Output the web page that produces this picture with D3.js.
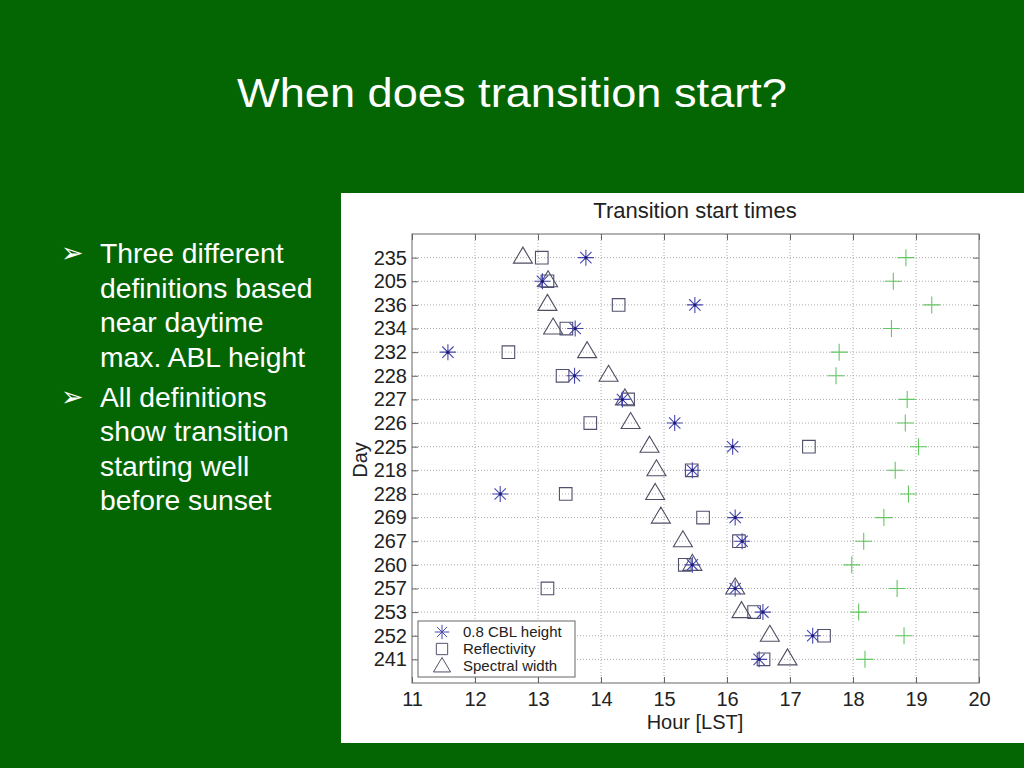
<!DOCTYPE html>
<html>
<head>
<meta charset="utf-8">
<script src="https://cdn.jsdelivr.net/npm/d3@7"></script>
<style>
  body { margin: 0; background: #036603; }
  svg text { font-family: "Liberation Sans", Arial, sans-serif; }
</style>
</head>
<body>
<div id="slide"></div>
<script>
// data (rows top to bottom)
var days = ["235", "205", "236", "234", "232", "228", "227", "226", "225",
            "218", "228", "269", "267", "260", "257", "253", "252", "241"];
var cblHeight = [13.76, 13.07, 15.49, 13.59, 11.57, 13.58, 14.34, 15.17, 16.09,
                 15.45, 12.40, 16.13, 16.24, 15.45, 16.13, 16.57, 17.36, 16.51];
var reflectivity = [13.06, 13.15, 14.28, 13.45, 12.53, 13.39, 14.43, 13.83, 17.30,
                    15.44, 13.44, 15.62, 16.19, 15.33, 13.15, 16.43, 17.54, 16.58];
var spectralWidth = [12.76, 13.16, 13.15, 13.24, 13.78, 14.12, 14.38, 14.47, 14.77,
                     14.88, 14.86, 14.95, 15.30, 15.45, 16.13, 16.23, 16.68, 16.96];
var sunset = [18.84, 18.64, 19.25, 18.61, 17.78, 17.73, 18.86, 18.83, 19.04,
              18.67, 18.88, 18.49, 18.17, 17.98, 18.70, 18.09, 18.81, 18.19];
var hourTicks = [11, 12, 13, 14, 15, 16, 17, 18, 19, 20];
var legendLabels = ["0.8 CBL height", "Reflectivity", "Spectral width"];

var bullets = [
    ["Three different", "definitions based", "near daytime", "max. ABL height"],
    ["All definitions", "show transition", "starting well", "before sunset"]
];

var W = 1024, H = 768;

var svg = d3.select('#slide')
    .append('svg')
    .attr('width', W)
    .attr('height', H);

svg.append('rect')
    .attr('width', W).attr('height', H)
    .attr('fill', '#036603');

// slide title
svg.append('text')
    .attr('x', 512)
    .attr('y', 107)
    .attr('text-anchor', 'middle')
    .attr('fill', 'white')
    .style('font-size', '41px')
    .attr('textLength', 550)
    .attr('lengthAdjust', 'spacingAndGlyphs')
    .text('When does transition start?');

// bullet list
var lineY = 263;
bullets.forEach(function(lines, b) {
    svg.append('text')
        .attr('x', 61)
        .attr('y', lineY - 1)
        .attr('fill', 'white')
        .style('font-family', '"DejaVu Sans"')
        .style('font-size', '27px')
        .style('font-weight', 'bold')
        .text('\u27A2');
    lines.forEach(function(l, i) {
        svg.append('text')
            .attr('x', 100)
            .attr('y', lineY)
            .attr('fill', 'white')
            .style('font-size', '28.3px')
            .text(l);
        lineY += 34.5;
    });
    lineY += 5.5;
});

// white figure panel
svg.append('rect')
    .attr('x', 341).attr('y', 193)
    .attr('width', W - 341).attr('height', 550)
    .attr('fill', 'white');

var plot = {left: 412, right: 979, top: 234, bottom: 683};

var x = d3.scaleLinear()
    .domain([11, 20])
    .range([plot.left, plot.right]);

var y = d3.scalePoint()
    .domain(d3.range(days.length))
    .range([plot.top, plot.bottom])
    .padding(1);

var g = svg.append('g');

// dotted grid
g.selectAll('.gridx').data(hourTicks.slice(1, -1))
    .enter().append('line')
    .attr('class', 'gridx')
    .attr('x1', function(d) { return x(d); })
    .attr('x2', function(d) { return x(d); })
    .attr('y1', plot.top).attr('y2', plot.bottom)
    .attr('stroke', '#aaa')
    .attr('stroke-dasharray', '1,2');

g.selectAll('.gridy').data(days)
    .enter().append('line')
    .attr('class', 'gridy')
    .attr('x1', plot.left).attr('x2', plot.right)
    .attr('y1', function(d, i) { return y(i); })
    .attr('y2', function(d, i) { return y(i); })
    .attr('stroke', '#aaa')
    .attr('stroke-dasharray', '1,2');

// axes, ticks inward like matlab
var tickStyle = function(sel, size) {
    sel.select('.domain').remove();
    sel.selectAll('.tick line').attr('stroke', '#666');
    sel.selectAll('.tick text')
        .attr('fill', '#222')
        .style('font-size', size)
        .style('font-family', '"Liberation Sans", Arial, sans-serif');
};

g.append('g')
    .attr('transform', 'translate(0,' + plot.bottom + ')')
    .call(d3.axisBottom(x).tickValues(hourTicks).tickFormat(d3.format('d'))
        .tickSize(-6).tickPadding(9))
    .call(tickStyle, '20px');

g.append('g')
    .attr('transform', 'translate(0,' + plot.top + ')')
    .call(d3.axisTop(x).tickValues(hourTicks).tickFormat('').tickSize(-6))
    .call(tickStyle, '20px');

g.append('g')
    .attr('transform', 'translate(' + plot.left + ',0)')
    .call(d3.axisLeft(y).tickFormat(function(i) { return days[i]; })
        .tickSize(-6).tickPadding(5))
    .call(tickStyle, '20px');

g.append('g')
    .attr('transform', 'translate(' + plot.right + ',0)')
    .call(d3.axisRight(y).tickFormat('').tickSize(-6))
    .call(tickStyle, '20px');

g.append('rect')
    .attr('x', plot.left).attr('y', plot.top)
    .attr('width', plot.right - plot.left)
    .attr('height', plot.bottom - plot.top)
    .attr('fill', 'none')
    .attr('stroke', '#666');

// chart title and axis labels
svg.append('text')
    .attr('x', 695).attr('y', 218)
    .attr('text-anchor', 'middle')
    .attr('fill', '#222')
    .style('font-size', '22px')
    .text('Transition start times');

svg.append('text')
    .attr('x', 695).attr('y', 729)
    .attr('text-anchor', 'middle')
    .attr('fill', '#222')
    .style('font-size', '20px')
    .text('Hour [LST]');

svg.append('text')
    .attr('transform', 'translate(367,460) rotate(-90)')
    .attr('text-anchor', 'middle')
    .attr('fill', '#222')
    .style('font-size', '20px')
    .text('Day');

// marker shapes
var asteriskPath = function(r) {
    var d = r * Math.SQRT1_2;
    return 'M' + (-r) + ',0L' + r + ',0M0,' + (-r) + 'L0,' + r +
        'M' + (-d) + ',' + (-d) + 'L' + d + ',' + d +
        'M' + (-d) + ',' + d + 'L' + d + ',' + (-d);
};
var squarePath = function(s) {
    return 'M' + (-s) + ',' + (-s) + 'H' + s + 'V' + s + 'H' + (-s) + 'Z';
};
var trianglePath = function(w) {
    return 'M0,-10.5L' + w + ',5.5L' + (-w) + ',5.5Z';
};
var plusPath = function(r) {
    return 'M' + (-r) + ',0L' + r + ',0M0,' + (-r) + 'L0,' + r;
};

var series = [
    {values: sunset, path: plusPath(8.5), color: '#62c862'},
    {values: spectralWidth, path: trianglePath(9.5), color: '#4e4e64'},
    {values: reflectivity, path: squarePath(6.3), color: '#50506c'},
    {values: cblHeight, path: asteriskPath(8), color: '#4646ac'}
];

series.forEach(function(s) {
    g.selectAll(null).data(s.values)
        .enter().append('path')
        .attr('transform', function(d, i) {
            return 'translate(' + x(d) + ',' + y(i) + ')';
        })
        .attr('d', s.path)
        .attr('fill', 'none')
        .attr('stroke', s.color)
        .attr('stroke-width', 1.1);
});

g.selectAll('.dot').data(cblHeight)
    .enter().append('circle')
    .attr('class', 'dot')
    .attr('cx', function(d) { return x(d); })
    .attr('cy', function(d, i) { return y(i); })
    .attr('r', 1.5)
    .attr('fill', '#1a1a70');

// legend
var legend = svg.append('g')
    .attr('transform', 'translate(418,621)');

legend.append('rect')
    .attr('width', 157).attr('height', 56)
    .attr('fill', 'white')
    .attr('stroke', '#666');

var legendShapes = [series[3], series[2], series[1]];
var legendRows = legend.selectAll('.lg').data(legendLabels)
    .enter().append('g')
    .attr('class', 'lg')
    .attr('transform', function(d, i) {
        return 'translate(0,' + (11 + i * 17) + ')';
    });

legendRows.append('path')
    .attr('transform', function(d, i) {
        return 'translate(24,' + (i == 2 ? 1 : 0) + ') scale(0.9)';
    })
    .attr('d', function(d, i) { return legendShapes[i].path; })
    .attr('fill', 'none')
    .attr('stroke', function(d, i) { return legendShapes[i].color; })
    .attr('stroke-width', 1.1);

legendRows.append('text')
    .attr('x', 45).attr('y', 5)
    .attr('fill', '#222')
    .style('font-size', '15px')
    .text(function(d) { return d; });
</script>
</body>
</html>
